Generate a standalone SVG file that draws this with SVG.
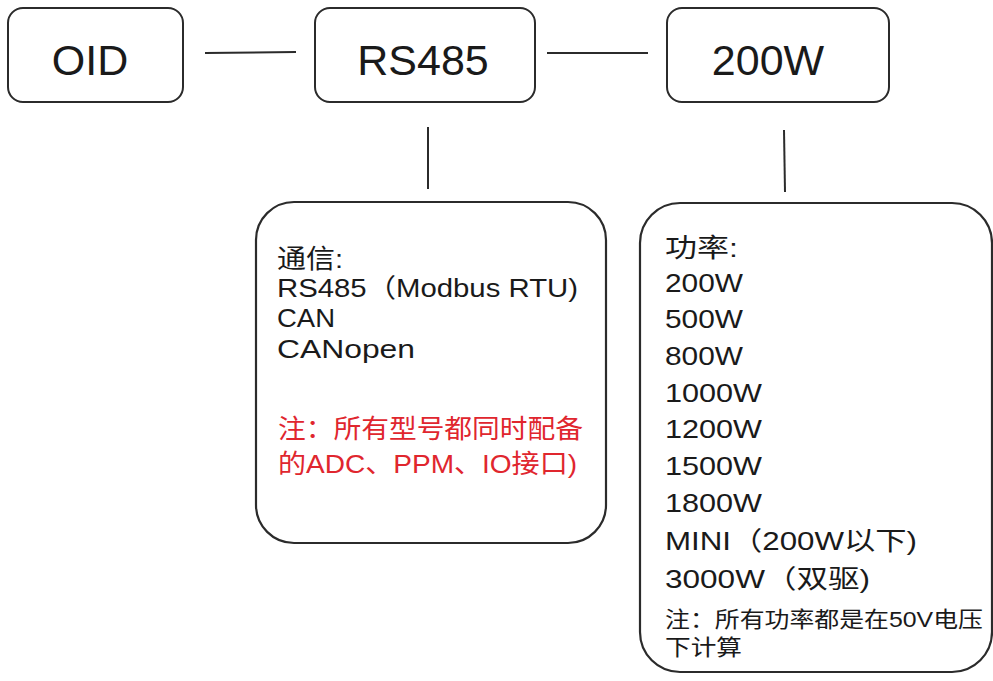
<svg xmlns="http://www.w3.org/2000/svg" width="993" height="681" viewBox="0 0 993 681">
<style>
.box{fill:#fff;stroke:#2b2b2b;stroke-width:2}
.big{fill:#fff;stroke:#2b2b2b;stroke-width:2.2}
.lbl{font-family:"Liberation Sans","Noto Sans CJK SC",sans-serif;font-size:43px;fill:#1a1a1a;text-anchor:middle}
.t{font-family:"Liberation Sans","Noto Sans CJK SC",sans-serif;font-size:26px;fill:#1a1a1a}
.r{font-family:"Liberation Sans","Noto Sans CJK SC",sans-serif;font-size:26px;fill:#e0262e}
.s{font-family:"Liberation Sans","Noto Sans CJK SC",sans-serif;font-size:22px;fill:#1a1a1a}
.c{stroke:#2b2b2b;stroke-width:2;fill:none}
</style>
<rect width="993" height="681" fill="#fff"/>
<g id="connectors">
<line class="c" x1="205" y1="53" x2="296" y2="52"/>
<line class="c" x1="547" y1="53" x2="648" y2="53"/>
<line class="c" x1="428" y1="127" x2="428" y2="189"/>
<line class="c" x1="784" y1="130" x2="785" y2="192"/>
</g>
<g id="oid">
<rect class="box" x="8" y="8" width="175" height="94" rx="15"/>
<text class="lbl" x="90" y="75">OID</text>
</g>
<g id="rs485">
<rect class="box" x="315" y="8" width="220" height="94" rx="15"/>
<text class="lbl" x="423" y="75">RS485</text>
</g>
<g id="power200w">
<rect class="box" x="667" y="8" width="222" height="94" rx="15"/>
<text class="lbl" x="768" y="75">200W</text>
</g>
<g id="comm">
<rect class="big" x="256" y="202" width="350" height="341" rx="38"/>
<text class="t" x="277" y="268" textLength="66" lengthAdjust="spacingAndGlyphs">通信:</text>
<text class="t" x="277" y="297" textLength="301" lengthAdjust="spacingAndGlyphs">RS485（Modbus RTU)</text>
<text class="t" x="277" y="327" textLength="58" lengthAdjust="spacingAndGlyphs">CAN</text>
<text class="t" x="277" y="358" textLength="138" lengthAdjust="spacingAndGlyphs">CANopen</text>
<text class="r" x="278" y="438" textLength="305" lengthAdjust="spacingAndGlyphs">注：所有型号都同时配备</text>
<text class="r" x="278" y="473" textLength="299" lengthAdjust="spacingAndGlyphs">的ADC、PPM、IO接口)</text>
</g>
<g id="power">
<rect class="big" x="640" y="203" width="352" height="469" rx="40"/>
<text class="t" x="665" y="257" textLength="73" lengthAdjust="spacingAndGlyphs">功率:</text>
<text class="t" x="665" y="292" textLength="78" lengthAdjust="spacingAndGlyphs">200W</text>
<text class="t" x="665" y="328" textLength="78" lengthAdjust="spacingAndGlyphs">500W</text>
<text class="t" x="665" y="365" textLength="78" lengthAdjust="spacingAndGlyphs">800W</text>
<text class="t" x="665" y="402" textLength="97" lengthAdjust="spacingAndGlyphs">1000W</text>
<text class="t" x="665" y="438" textLength="97" lengthAdjust="spacingAndGlyphs">1200W</text>
<text class="t" x="665" y="475" textLength="97" lengthAdjust="spacingAndGlyphs">1500W</text>
<text class="t" x="665" y="512" textLength="97" lengthAdjust="spacingAndGlyphs">1800W</text>
<text class="t" x="665" y="550" textLength="252" lengthAdjust="spacingAndGlyphs">MINI（200W以下)</text>
<text class="t" x="665" y="588" textLength="205" lengthAdjust="spacingAndGlyphs">3000W（双驱)</text>
<text class="s" x="665" y="627" textLength="318" lengthAdjust="spacingAndGlyphs">注：所有功率都是在50V电压</text>
<text class="s" x="665" y="655" textLength="77" lengthAdjust="spacingAndGlyphs">下计算</text>
</g>
</svg>
